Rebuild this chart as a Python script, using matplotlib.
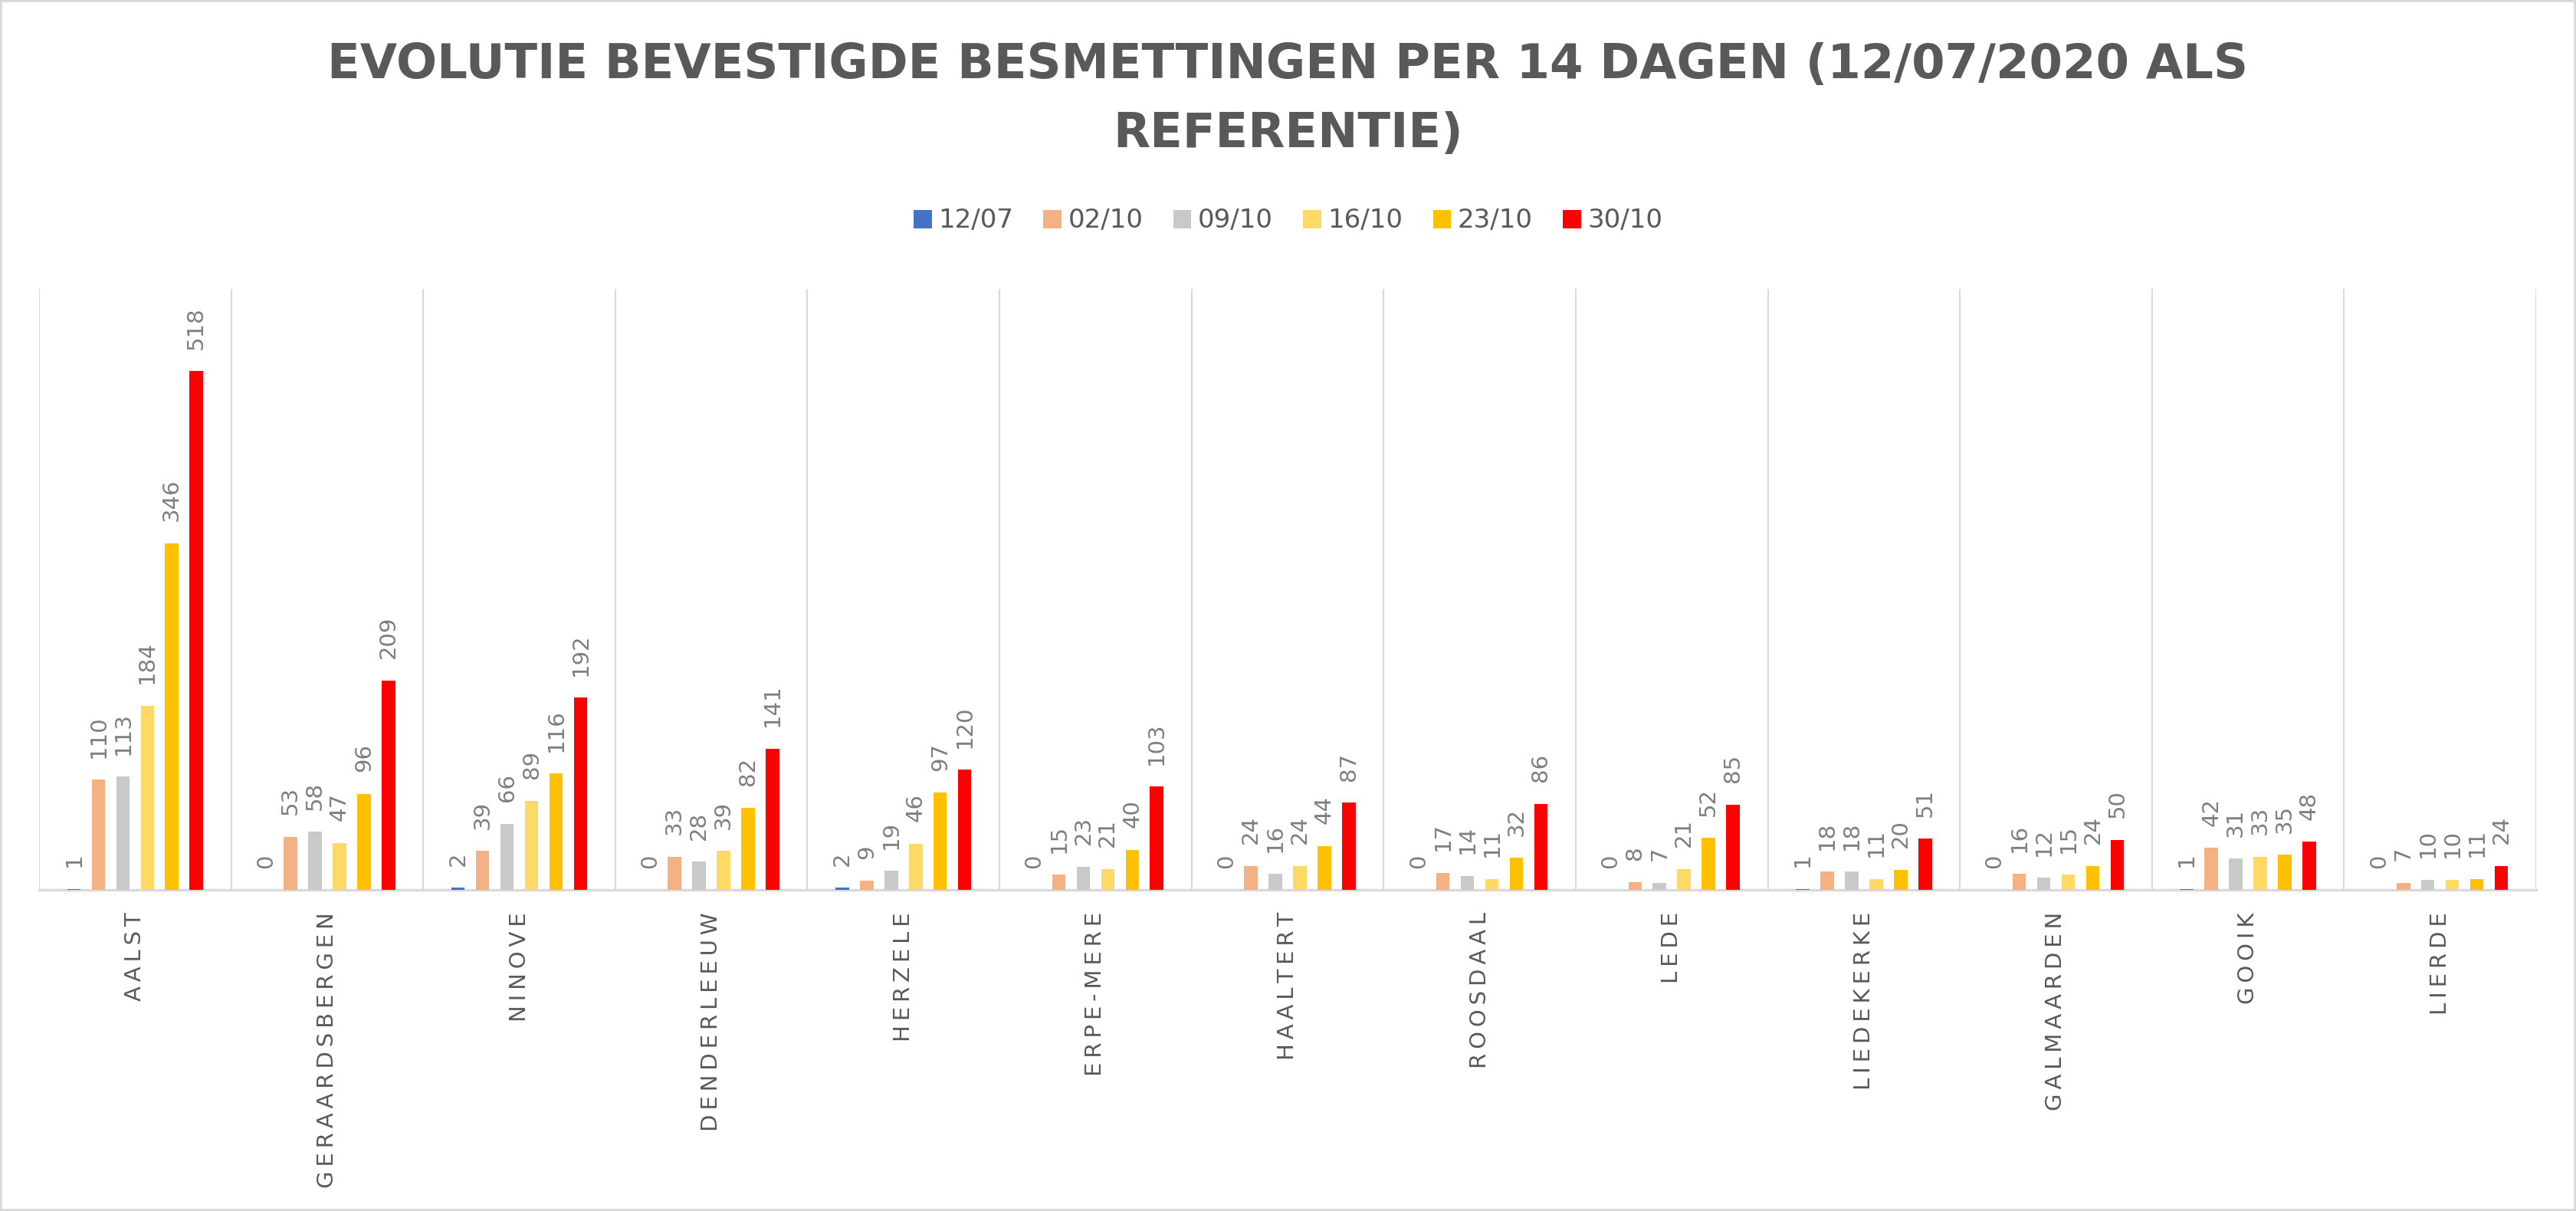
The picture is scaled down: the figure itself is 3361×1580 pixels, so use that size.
import matplotlib
matplotlib.use("Agg")
import matplotlib.pyplot as plt
from matplotlib.patches import Rectangle, Patch
import numpy as np

plt.rcParams['font.family'] = ['DejaVu Sans']

categories = ["AALST", "GERAARDSBERGEN", "NINOVE", "DENDERLEEUW", "HERZELE",
              "ERPE-MERE", "HAALTERT", "ROOSDAAL", "LEDE", "LIEDEKERKE",
              "GALMAARDEN", "GOOIK", "LIERDE"]
series_names = ["12/07", "02/10", "09/10", "16/10", "23/10", "30/10"]
v_1207 = [1, 0, 2, 0, 2, 0, 0, 0, 0, 1, 0, 1, 0]
v_0210 = [110, 53, 39, 33, 9, 15, 24, 17, 8, 18, 16, 42, 7]
v_0910 = [113, 58, 66, 28, 19, 23, 16, 14, 7, 18, 12, 31, 10]
v_1610 = [184, 47, 89, 39, 46, 21, 24, 11, 21, 11, 15, 33, 10]
v_2310 = [346, 96, 116, 82, 97, 40, 44, 32, 52, 20, 24, 35, 11]
v_3010 = [518, 209, 192, 141, 120, 103, 87, 86, 85, 51, 50, 48, 24]
series_values = [v_1207, v_0210, v_0910, v_1610, v_2310, v_3010]
colors = ["#4472C4", "#F4B183", "#C9C9C9", "#FFD966", "#FFC000", "#FF0000"]

title = "EVOLUTIE BEVESTIGDE BESMETTINGEN PER 14 DAGEN (12/07/2020 ALS\nREFERENTIE)"

W, H = 3361, 1580
dpi = 100
fig = plt.figure(figsize=(W / dpi, H / dpi), dpi=dpi)
fig.patch.set_facecolor("white")

ax = fig.add_axes([51 / W, 1 - 1161 / H, (3309 - 51) / W, (1161 - 377) / H])
x = np.arange(len(categories))
pitch = 0.1275
bw = 0.07
label_gray = "#7F7F7F"
text_gray = "#595959"

for i, (name, vals, col) in enumerate(zip(series_names, series_values, colors)):
    off = (i - 2.5) * pitch
    ax.bar(x + off, vals, width=bw, color=col, label=name, zorder=3)
    for xi, v in zip(x + off, vals):
        ax.annotate(str(v), xy=(xi, v), xytext=(0, 20.5), textcoords="offset points",
                    rotation=90, ha="center", va="bottom", fontsize=21,
                    color=label_gray)

# letter-spaced category labels (thin spaces between letters)
spaced = ["\u2009".join(c) for c in categories]

ax.set_xlim(-0.5, len(categories) - 0.5)
ax.set_ylim(0, 600)
ax.set_yticks([])
ax.set_xticks(x)
ax.set_xticklabels(spaced, rotation=90, fontsize=21, color=text_gray, va="top")
ax.tick_params(axis="x", length=0, pad=21)
ax.set_xticks(np.arange(-0.5, len(categories)), minor=True)
ax.tick_params(axis="x", which="minor", length=0)
ax.grid(which="minor", axis="x", color="#D9D9D9", linewidth=1.5, zorder=0)
ax.grid(which="major", visible=False)
for s in ["left", "right", "top"]:
    ax.spines[s].set_visible(False)
ax.spines["bottom"].set_color("#D9D9D9")
ax.spines["bottom"].set_linewidth(2.5)
ax.set_facecolor("none")

fig.text(0.5, 1 - 130 / H, title, ha="center", va="center", fontsize=45,
         fontweight="bold", color=text_gray, linespacing=1.62)

handles = [Patch(facecolor=c, edgecolor="none") for c in colors]
fig.legend(handles, series_names, loc="center", bbox_to_anchor=(0.5, 1 - 288 / H),
           ncol=6, frameon=False, fontsize=24.5, labelcolor=text_gray,
           handlelength=0.7, handleheight=0.7, handletextpad=0.25,
           columnspacing=1.15)

fig.patches.append(Rectangle((0, 0), 1, 1, transform=fig.transFigure,
                             fill=False, edgecolor="#D9D9D9", linewidth=4))

fig.savefig("out.png", dpi=dpi)
